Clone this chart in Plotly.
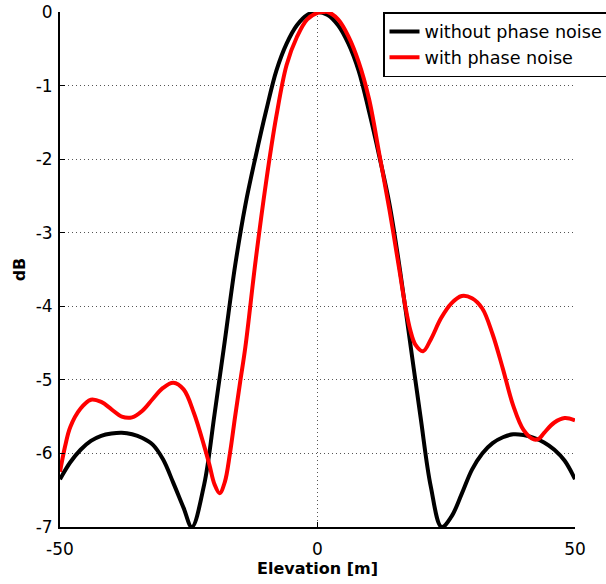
import plotly.graph_objects as go

# Elevation samples [m] and beam pattern [dB] without phase noise
elev_ref = [-50, -48, -46, -44, -42, -40, -38, -36, -34, -32, -30, -28,
            -26, -24.4, -22, -20, -18, -16, -14, -12, -10, -8, -6, -4, -2,
            0, 2, 4, 6, 8, 10, 12, 14, 16, 18, 20, 22, 24.1, 26, 28, 30,
            32, 34, 36, 38, 40, 42, 44, 46, 48, 50]
db_ref = [-6.35, -6.12, -5.95, -5.83, -5.76, -5.73, -5.72, -5.74, -5.79,
          -5.88, -6.08, -6.40, -6.74, -7.0, -6.42, -5.47, -4.47, -3.45,
          -2.62, -1.96, -1.35, -0.80, -0.43, -0.18, -0.04, 0.0, -0.04,
          -0.18, -0.43, -0.80, -1.35, -1.96, -2.62, -3.50, -4.50, -5.50,
          -6.45, -7.0, -6.86, -6.55, -6.22, -6.00, -5.86, -5.78, -5.74,
          -5.75, -5.79, -5.85, -5.95, -6.10, -6.35]

# Beam pattern [dB] with phase noise
elev_pn = [-50, -49, -48, -46, -44, -42, -40, -38, -36, -34, -32, -30, -28,
           -26, -24, -22, -21, -20, -19, -18, -17, -16, -15, -14, -12, -10,
           -8, -6, -4, -2, 0, 1.3, 2, 4, 6, 8, 10, 12, 14, 16, 17, 18, 19,
           20.5, 22, 24, 26, 28, 30, 32, 34, 36, 38, 40, 42, 43, 44, 46,
           48, 50]
db_pn = [-6.25, -5.90, -5.64, -5.39, -5.27, -5.30, -5.40, -5.50, -5.51,
         -5.42, -5.26, -5.11, -5.04, -5.13, -5.45, -5.90, -6.15, -6.42,
         -6.54, -6.39, -6.00, -5.50, -5.02, -4.55, -3.37, -2.32, -1.42,
         -0.72, -0.34, -0.10, -0.01, 0.0, 0.0, -0.10, -0.33, -0.68, -1.18,
         -1.93, -2.70, -3.55, -3.98, -4.32, -4.52, -4.61, -4.45, -4.16,
         -3.96, -3.86, -3.89, -4.03, -4.38, -4.85, -5.35, -5.68, -5.81,
         -5.80, -5.72, -5.58, -5.52, -5.55]

x_ticks = [-50, 0, 50]
y_ticks = [0, -1, -2, -3, -4, -5, -6, -7]

TICK_FONT = dict(family="DejaVu Sans", size=17, color="black")
TITLE_FONT = dict(family="DejaVu Sans", size=16, color="black", weight="bold")

fig = go.Figure()
fig.add_trace(go.Scatter(
    x=elev_ref, y=db_ref, mode="lines", name="without phase noise",
    line=dict(color="#000000", width=4, shape="spline", smoothing=1.0),
))
fig.add_trace(go.Scatter(
    x=elev_pn, y=db_pn, mode="lines", name="with phase noise",
    line=dict(color="#ff0000", width=4, shape="spline", smoothing=1.0),
))

grid = dict(showgrid=True, gridcolor="#555555", griddash="1px,3px",
            gridwidth=1, zeroline=False, showline=True, linecolor="black",
            linewidth=2, ticks="inside", ticklen=5, tickcolor="black",
            tickwidth=1, tickfont=TICK_FONT, mirror=False)

fig.update_xaxes(range=[-50, 50], tickvals=x_ticks,
                 ticktext=[str(v) for v in x_ticks],
                 title=dict(text="Elevation [m]", font=TITLE_FONT, standoff=1),
                 ticklabelstandoff=6, **grid)
fig.update_yaxes(range=[-7, 0], tickvals=y_ticks,
                 ticktext=[str(v) for v in y_ticks],
                 title=dict(text="dB", font=TITLE_FONT, standoff=6),
                 ticklabelstandoff=2, **grid)

fig.update_layout(
    width=606, height=584,
    margin=dict(l=60, r=31, t=12, b=57, autoexpand=False),
    paper_bgcolor="white", plot_bgcolor="white",
    showlegend=True,
    legend=dict(x=(383 - 60) / 515, y=1.0, xanchor="left", yanchor="top",
                bgcolor="white", bordercolor="black", borderwidth=1.5,
                font=dict(family="DejaVu Sans", size=17.6, color="black"),
                tracegroupgap=0, itemwidth=30),
)

fig.write_html("out.html")
